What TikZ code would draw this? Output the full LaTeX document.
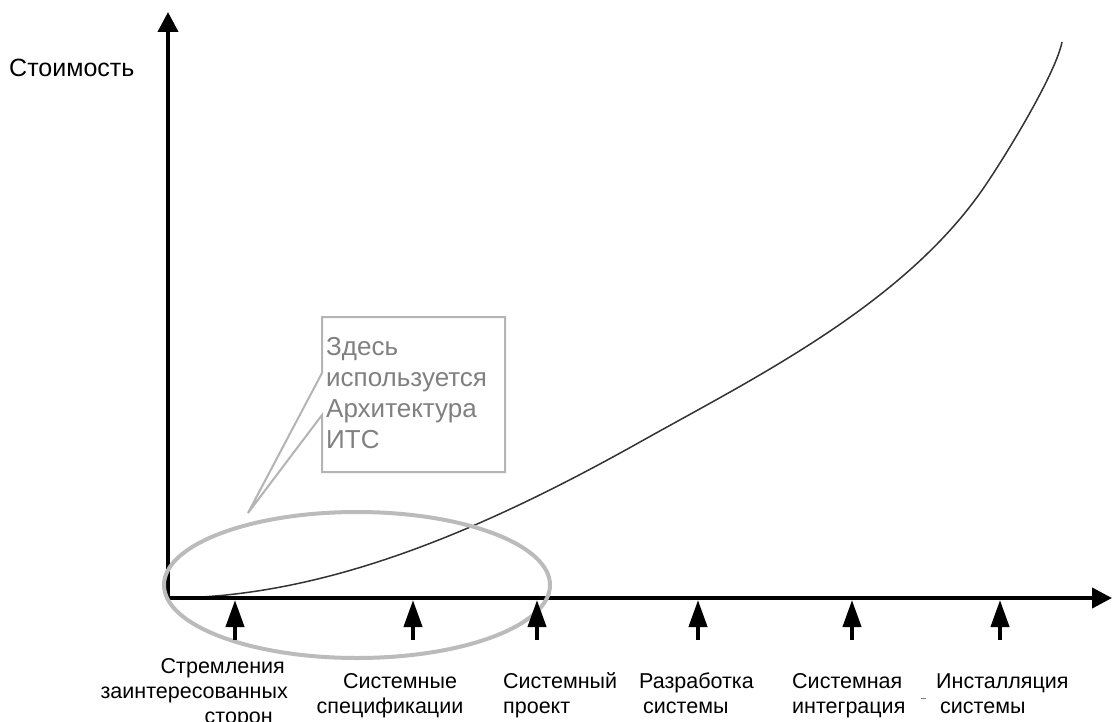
\documentclass[tikz,border=0pt]{standalone}
\usepackage{fontspec}
\setmainfont{Liberation Sans}
\usetikzlibrary{arrows.meta}
\definecolor{ellgray}{HTML}{BBBBBB}
\definecolor{boxgray}{HTML}{B4B4B4}
\definecolor{txtgray}{HTML}{808080}
\definecolor{curvecol}{HTML}{333333}
\begin{document}
\begin{tikzpicture}[x=1pt,y=-1pt,
  axisline/.style={line width=4pt,-{Triangle[width=20pt,length=20pt]}},
  tickarrow/.style={line width=4pt,-{Triangle[width=18pt,length=27pt]}},
  lbl/.style={font=\fontsize{21.5}{25}\selectfont,inner sep=0pt},
  costcurve/.style={line width=1.5pt,curvecol},
  ell/.style={line width=4pt,ellgray},
  callout/.style={line width=2pt,boxgray,line join=miter},
  calltext/.style={font=\fontsize{26}{31}\selectfont,txtgray,inner sep=0pt,anchor=north west,align=left}]
\useasboundingbox (0,0) rectangle (1113,722);
\fill[white] (0,0) rectangle (1113,722);

% axes
\coordinate (O) at (168,598);
\coordinate (Ybot) at (168,600);
\coordinate (Ytip) at (168,12);
\coordinate (Xbeg) at (166,598);
\coordinate (Xtip) at (1112,598);
\coordinate (Cend) at (1062,42);

% cost curve
\draw[costcurve] (O) .. controls (325,598) and (483,530) .. (640,442)
  .. controls (756,377) and (907,303) .. (987,183)
  .. controls (1012,145.5) and (1056,72) .. (Cend);

\draw[axisline] (Ybot) -- (Ytip);
\draw[axisline] (Xbeg) -- (Xtip);

% ellipse highlighting early phases
\draw[ell] (357,585) ellipse [x radius=193, y radius=73];

% callout
\coordinate (ctip) at (248,513);
\draw[callout] (322,373) -- (ctip) -- (322,415) -- (322,472) -- (505,472) -- (505,317) -- (322,317) -- cycle;
\node[calltext] (note) at (326,333) {\rule{0pt}{22pt}Здесь\\используется\\Архитектура\\ИТС};

% y label
\node[font=\fontsize{25}{30}\selectfont,inner sep=0pt,anchor=base west] (cost) at (9,77) {Стоимость};

% tick arrows
\foreach \i/\x in {1/235,2/413,3/537,4/698,5/852,6/1000}{
  \coordinate (tb\i) at (\x,640);
  \coordinate (ta\i) at (\x,600);
  \draw[tickarrow] (tb\i) -- (ta\i);
}

% phase labels
\node[lbl,anchor=north east,align=right] (lab1) at (288,653) {\rule{0pt}{20pt}Стремления\hspace*{3pt}\\заинтересованных\\сторон\hspace*{15pt}};
\node[lbl,anchor=north,align=center] (lab2) at (395,668) {\rule{0pt}{20pt}\hspace*{10pt}Системные\\спецификации\hspace*{10pt}};
\node[lbl,anchor=north west,align=left] (lab3) at (503,668) {\rule{0pt}{20pt}Системный\\проект};
\node[lbl,anchor=north west,align=left] (lab4) at (639,668) {\rule{0pt}{20pt}Разработка\\\hspace*{4pt}системы};
\node[lbl,anchor=north west,align=left] (lab5) at (792,668) {\rule{0pt}{20pt}Системная\\интеграция};
\node[lbl,anchor=north west,align=left] (lab6) at (936,668) {\rule{0pt}{20pt}Инсталляция\\\hspace*{4pt}системы};

% stray small dash
\draw[line width=1pt,txtgray] (921,698) -- (926,698);
\end{tikzpicture}
\end{document}
